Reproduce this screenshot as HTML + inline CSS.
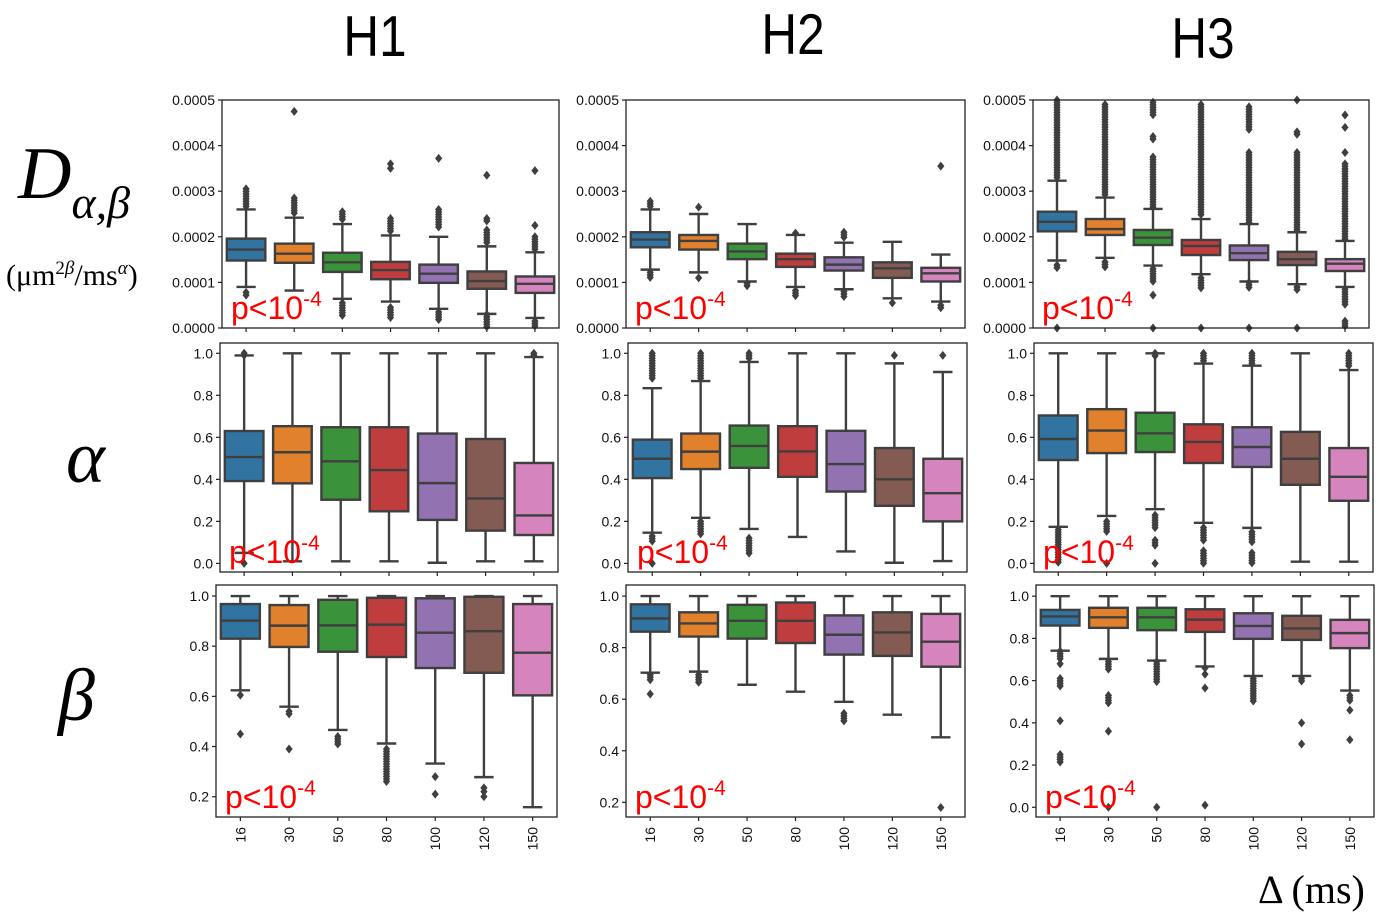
<!DOCTYPE html>
<html><head><meta charset="utf-8"><style>
html,body{margin:0;padding:0;background:#fff;}
svg{display:block;}
</style></head><body>
<svg id="fig" width="1395" height="919" viewBox="0 0 1395 919" xmlns="http://www.w3.org/2000/svg">
<g font-family="Liberation Sans, sans-serif" font-size="52" fill="#000" text-anchor="middle">
<text x="375" y="56" transform="translate(375,56) scale(0.95,1.1) translate(-375,-56)">H1</text>
<text x="793" y="54" transform="translate(793,54) scale(0.95,1.1) translate(-793,-54)">H2</text>
<text x="1203" y="58" transform="translate(1203,58) scale(0.95,1.1) translate(-1203,-58)">H3</text>
</g>
<g font-family="Liberation Serif, serif" fill="#000">
<text x="18" y="198" font-size="74" font-style="italic">D<tspan font-size="46" dy="20">α,β</tspan></text>
<text x="6" y="285" font-size="30">(μm<tspan font-size="19" dy="-11">2<tspan font-style="italic">β</tspan></tspan><tspan dy="11">/ms</tspan><tspan font-size="19" dy="-11" font-style="italic">α</tspan><tspan dy="11">)</tspan></text>
<text x="66" y="482" font-size="74" font-style="italic">α</text>
<text x="58" y="720" font-size="74" font-style="italic">β</text>
<text x="1258" y="903" font-size="40">Δ (ms)</text>
</g>
<g id="panels"></g>
</svg>
<script>
const categories = ["16","30","50","80","100","120","150"];
const colors = ["#3274a1","#e1812c","#3a923a","#c03d3e","#9372b2","#845b53","#d684bd"];
// stats per box: [whiskerLow, q1, median, q3, whiskerHigh]
const dH1 = [[0.9,1.48,1.72,1.96,2.6],[0.82,1.43,1.63,1.85,2.42],[0.64,1.23,1.44,1.65,2.28],[0.58,1.07,1.27,1.45,2.03],[0.42,0.99,1.19,1.39,2.0],[0.31,0.86,1.03,1.24,1.79],[0.22,0.77,0.97,1.13,1.66]];
const dH1Out = [[0.72,0.78],[4.75],[],[3.5,3.6],[3.72],[2.35,2.4,3.35],[2.25,3.45]];
const dH1Dense = [[[2.65,3.05]],[[2.5,2.85]],[[2.35,2.55],[0.27,0.55]],[[2.1,2.4],[0.2,0.45]],[[2.2,2.6],[0.18,0.35]],[[1.85,2.15],[0,0.3]],[[1.72,2.0],[0,0.15]]];
const dH2 = [[1.28,1.77,1.94,2.1,2.6],[1.22,1.72,1.91,2.04,2.5],[1.02,1.51,1.68,1.85,2.28],[0.9,1.34,1.51,1.63,2.04],[0.85,1.26,1.39,1.55,1.87],[0.65,1.1,1.31,1.44,1.89],[0.58,1.02,1.2,1.32,1.61]];
const dH2Out = [[],[2.65,1.1],[],[2.08],[],[0.55],[3.55]];
const dH2Dense = [[[2.65,2.78],[1.1,1.22]],[],[[0.88,0.98]],[[0.7,0.82]],[[1.95,2.1],[0.67,0.8]],[],[[0.4,0.5]]];
const dH3 = [[1.48,2.12,2.33,2.55,3.23],[1.54,2.04,2.17,2.39,2.86],[1.37,1.82,1.98,2.15,2.61],[1.18,1.6,1.8,1.93,2.39],[1.02,1.49,1.64,1.81,2.28],[0.96,1.38,1.51,1.67,2.1],[0.9,1.25,1.41,1.51,1.91]];
const dH3Out = [[0],[],[0.72,0],[0],[0],[5.0,0],[3.85,4.4,4.67]];
const dH3Dense = [[[3.3,5.0],[1.32,1.38]],[[2.9,4.9],[1.3,1.45]],[[2.65,3.75],[4.1,4.2],[4.65,4.95],[1.0,1.3]],[[2.45,4.9],[0.88,1.1]],[[2.3,3.85],[4.35,4.85],[0.85,1.0]],[[2.15,3.85],[4.25,4.3],[0.8,0.9]],[[1.95,3.6],[0.5,0.85],[0,0.15]]];
const aH1 = [[0.05,0.392,0.506,0.63,0.99],[0.01,0.381,0.529,0.653,1.0],[0.01,0.303,0.486,0.648,1.0],[0.01,0.248,0.444,0.648,1.0],[0.003,0.207,0.382,0.618,1.0],[0.01,0.156,0.309,0.592,1.0],[0.01,0.135,0.228,0.478,0.982]];
const aH1Out = [[0.0],[],[],[],[],[],[]];
const aH1Dense = [[[0.99,1.0]],[],[],[],[],[],[[0.99,1.0]]];
const aH2 = [[0.146,0.406,0.498,0.589,0.834],[0.217,0.449,0.532,0.618,0.868],[0.164,0.455,0.559,0.656,0.959],[0.126,0.412,0.533,0.653,1.0],[0.057,0.342,0.473,0.631,1.0],[0.003,0.274,0.4,0.549,0.952],[0.011,0.2,0.334,0.498,0.911]];
const aH2Out = [[0.0],[],[],[],[],[0.99],[0.99]];
const aH2Dense = [[[0.87,1.0],[0.1,0.13]],[[0.88,1.0],[0.13,0.2]],[[0.97,1.0],[0.04,0.12]],[],[],[],[]];
const aH3 = [[0.174,0.492,0.592,0.704,1.0],[0.226,0.525,0.632,0.734,1.0],[0.258,0.53,0.619,0.717,1.0],[0.193,0.478,0.578,0.662,0.951],[0.169,0.459,0.554,0.648,0.941],[0.008,0.374,0.498,0.626,1.0],[0.008,0.298,0.412,0.549,0.92]];
const aH3Out = [[],[0.0],[0.0],[],[],[],[]];
const aH3Dense = [[[0.0,0.16]],[[0.15,0.2]],[[0.98,1.0],[0.16,0.23],[0.08,0.11]],[[0.96,1.0],[0.1,0.17],[0.0,0.06]],[[0.95,1.0],[0.1,0.15],[0.0,0.05]],[],[[0.93,1.0]]];
const bH1 = [[0.624,0.83,0.902,0.968,1.0],[0.559,0.797,0.882,0.964,1.0],[0.466,0.778,0.883,0.985,1.0],[0.412,0.757,0.886,0.993,1.0],[0.332,0.713,0.854,0.991,1.0],[0.278,0.694,0.86,0.997,1.0],[0.158,0.604,0.774,0.968,1.0]];
const bH1Out = [[0.605,0.45],[0.53,0.54,0.39],[],[],[0.28,0.21],[0.235,0.22,0.2],[]];
const bH1Dense = [[],[],[[0.41,0.44]],[[0.26,0.39]],[],[],[]];
const bH2 = [[0.703,0.862,0.913,0.968,1.0],[0.707,0.843,0.894,0.937,1.0],[0.656,0.835,0.904,0.966,1.0],[0.629,0.818,0.904,0.975,1.0],[0.59,0.773,0.85,0.925,1.0],[0.54,0.768,0.859,0.937,1.0],[0.452,0.726,0.823,0.931,1.0]];
const bH2Out = [[0.62],[],[],[],[],[],[0.18]];
const bH2Dense = [[[0.675,0.695]],[[0.665,0.695]],[],[],[[0.515,0.545]],[],[]];
const bH3 = [[0.742,0.861,0.904,0.935,1.0],[0.703,0.85,0.9,0.945,1.0],[0.695,0.839,0.9,0.945,1.0],[0.667,0.831,0.889,0.938,1.0],[0.622,0.798,0.859,0.919,1.0],[0.622,0.793,0.847,0.907,1.0],[0.553,0.754,0.825,0.888,1.0]];
const bH3Out = [[0.68,0.41],[0.36,0.0],[0.0],[0.63,0.66,0.565,0.01],[],[0.4,0.3],[0.46,0.32]];
const bH3Dense = [[[0.7,0.74],[0.57,0.61],[0.21,0.25]],[[0.65,0.69],[0.49,0.53]],[[0.59,0.69]],[],[[0.5,0.61]],[[0.59,0.61]],[[0.5,0.53]]];
const dTicks = [0,1,2,3,4,5];
const dTickLabels = ["0.0000","0.0001","0.0002","0.0003","0.0004","0.0005"];
const aTicks = [0,0.2,0.4,0.6,0.8,1.0];
const aTickLabels = ["0.0","0.2","0.4","0.6","0.8","1.0"];
const b12Ticks = [0.2,0.4,0.6,0.8,1.0];
const b12TickLabels = ["0.2","0.4","0.6","0.8","1.0"];
const b3Ticks = [0,0.2,0.4,0.6,0.8,1.0];
const b3TickLabels = ["0.0","0.2","0.4","0.6","0.8","1.0"];

const panels = [
 {name:"d-h1", f:[222,100,559,328], y:[0,5], s:dH1, o:dH1Out, dn:dH1Dense, t:dTicks, tl:dTickLabels, x:false},
 {name:"d-h2", f:[626,100,965,328], y:[0,5], s:dH2, o:dH2Out, dn:dH2Dense, t:dTicks, tl:dTickLabels, x:false},
 {name:"d-h3", f:[1033,100,1369,328], y:[0,5], s:dH3, o:dH3Out, dn:dH3Dense, t:dTicks, tl:dTickLabels, x:false},
 {name:"alpha-h1", f:[220,343,558,572], y:[-0.041,1.049], s:aH1, o:aH1Out, dn:aH1Dense, t:aTicks, tl:aTickLabels, x:false},
 {name:"alpha-h2", f:[628,343,967,572], y:[-0.041,1.049], s:aH2, o:aH2Out, dn:aH2Dense, t:aTicks, tl:aTickLabels, x:false},
 {name:"alpha-h3", f:[1034,343,1373,572], y:[-0.041,1.049], s:aH3, o:aH3Out, dn:aH3Dense, t:aTicks, tl:aTickLabels, x:false},
 {name:"beta-h1", f:[216,585,557,817], y:[0.119,1.044], s:bH1, o:bH1Out, dn:bH1Dense, t:b12Ticks, tl:b12TickLabels, x:true},
 {name:"beta-h2", f:[626,585,965,817], y:[0.143,1.043], s:bH2, o:bH2Out, dn:bH2Dense, t:b12Ticks, tl:b12TickLabels, x:true},
 {name:"beta-h3", f:[1036,585,1374,817], y:[-0.046,1.053], s:bH3, o:bH3Out, dn:bH3Dense, t:b3Ticks, tl:b3TickLabels, x:true}
];
const NS = "http://www.w3.org/2000/svg";
const root = document.getElementById("panels");
function mk(tag, attrs, parent){ const e=document.createElementNS(NS,tag); for(const k in attrs) e.setAttribute(k,attrs[k]); parent.appendChild(e); return e; }
function diamond(g, cx, cy){ const p=mk("polygon",{points:`${cx},${cy-4.5} ${cx+3.6},${cy} ${cx},${cy+4.5} ${cx-3.6},${cy}`, fill:"#3f3f3f"}, g);
 
  }
panels.forEach(P=>{
 const [x0,y0,x1,y1]=P.f;
 const g=mk("g",{},root);
 
 
 const yS=v=>y1-(v-P.y[0])/(P.y[1]-P.y[0])*(y1-y0);
 const bw=(x1-x0)/categories.length;
 const xS=i=>x0+bw*(i+0.5);
 P.t.forEach((v,i)=>{ const yy=yS(v);
  mk("line",{x1:x0-4,x2:x0,y1:yy,y2:yy,stroke:"#222","stroke-width":1.2},g);
  const t=mk("text",{x:x0-7,y:yy+5,"text-anchor":"end","font-family":"Liberation Sans, sans-serif","font-size":14,fill:"#111"},g);
  t.textContent=P.tl[i];
  
  
 });
 categories.forEach((c,i)=>{
  const cx=xS(i), st=P.s[i], hw=bw*0.4;
  mk("line",{x1:cx,x2:cx,y1:y1,y2:y1+4,stroke:"#222","stroke-width":1.2},g);
  if(P.x){ const t=mk("text",{x:0,y:0,transform:`translate(${cx+5},${y1+10}) rotate(-90)`,"text-anchor":"end","font-family":"Liberation Sans, sans-serif","font-size":14,fill:"#111"},g);
   t.textContent=c;
   
    }
  const bg=mk("g",{},g);
  
  
  const L={stroke:"#3f3f3f","stroke-width":2.4};
  mk("line",Object.assign({x1:cx,x2:cx,y1:yS(st[0]),y2:yS(st[1])},L),bg);
  mk("line",Object.assign({x1:cx,x2:cx,y1:yS(st[3]),y2:yS(st[4])},L),bg);
  mk("line",Object.assign({x1:cx-hw/2,x2:cx+hw/2,y1:yS(st[0]),y2:yS(st[0])},L),bg);
  mk("line",Object.assign({x1:cx-hw/2,x2:cx+hw/2,y1:yS(st[4]),y2:yS(st[4])},L),bg);
  mk("rect",{x:cx-hw,y:yS(st[3]),width:2*hw,height:yS(st[1])-yS(st[3]),fill:colors[i],stroke:"#3f3f3f","stroke-width":2.4},bg);
  mk("line",Object.assign({x1:cx-hw,x2:cx+hw,y1:yS(st[2]),y2:yS(st[2])},L),bg);
  P.o[i].forEach(v=>diamond(bg,cx,yS(v)));
  P.dn[i].forEach(r=>{ const a=yS(r[1]), b=yS(r[0]); for(let yy=a; yy<=b+0.01; yy+=2.5) diamond(bg,cx,yy); if(b-a<2.5) diamond(bg,cx,b); });
 });
 const fr=mk("rect",{x:x0,y:y0,width:x1-x0,height:y1-y0,fill:"none",stroke:"#222","stroke-width":1.3},g);
 
 
 const p=mk("text",{x:x0+9,y:y1-9,"font-family":"Liberation Sans, sans-serif","font-size":32,fill:"#ff0000"},g);
 
 
 p.innerHTML='p&lt;10<tspan font-size="21" dy="-13">-4</tspan>';
});
</script>
</body></html>
